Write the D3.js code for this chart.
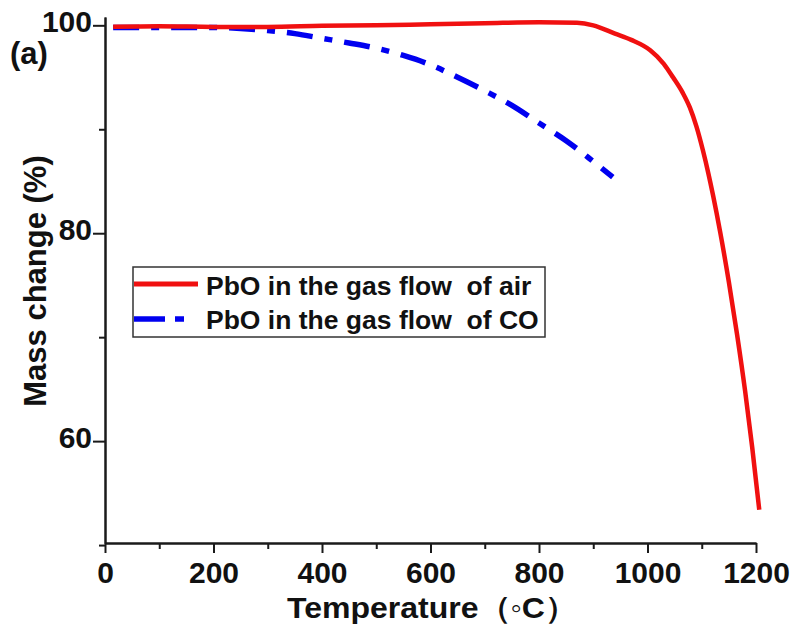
<!DOCTYPE html>
<html>
<head>
<meta charset="utf-8">
<script src="https://cdn.jsdelivr.net/npm/d3@7/dist/d3.min.js"></script>
<style>
  body { margin: 0; background: #fff; }
  svg { font-family: "Liberation Sans", Arial, sans-serif; font-weight: bold; }
  .axis path, .axis line { stroke: #1a1a1a; stroke-width: 2px; }
  .axis text { fill: #111; font-size: 30px; font-family: "Liberation Sans", Arial, sans-serif; font-weight: bold; }
</style>
</head>
<body>
<svg id="chart" width="797" height="626"></svg>
<script>
// red curve: PbO in air
const airTemp = [15, 100, 200, 300, 400, 500, 600, 700, 800, 870, 900, 940, 970, 1005, 1030, 1047, 1065, 1078, 1090, 1102, 1112, 1121, 1134, 1150, 1165, 1180, 1193, 1206];
const airMass = [99.85, 99.9, 99.85, 99.85, 99.95, 100.0, 100.1, 100.2, 100.3, 100.25, 100.0, 99.2, 98.6, 97.6, 96.3, 95.0, 93.5, 92.1, 90.3, 88.0, 85.8, 83.6, 80.1, 75.3, 70.3, 64.8, 59.4, 53.4];

// blue curve: PbO in CO
const coTemp = [15, 100, 200, 250, 300, 350, 400, 450, 500, 550, 600, 650, 700, 750, 800, 850, 900, 936];
const coMass = [99.8, 99.8, 99.8, 99.7, 99.5, 99.2, 98.75, 98.3, 97.8, 97.1, 96.2, 95.0, 93.7, 92.3, 90.6, 88.9, 86.9, 85.4];

const xMajor = [0, 200, 400, 600, 800, 1000, 1200];
const xMinor = [100, 300, 500, 700, 900, 1100];
const yMajor = [60, 80, 100];
const yMinor = [50, 70, 90];

const svg = d3.select("#chart");

let x = d3.scaleLinear().domain([0, 1200]).range([105, 756]);
let y = d3.scaleLinear().domain([50.2, 100.8]).range([543, 17]);

// axes
svg.append("g")
  .attr("class", "axis")
  .attr("transform", "translate(0,543)")
  .call(d3.axisBottom(x).tickValues(xMinor).tickSize(6).tickSizeOuter(0).tickFormat(""));

svg.append("g")
  .attr("class", "axis")
  .attr("transform", "translate(0,543)")
  .call(d3.axisBottom(x).tickValues(xMajor).tickSize(10).tickSizeOuter(0).tickPadding(9).tickFormat(d3.format("d")))
  .selectAll("text").attr("dy", "0.71em");

svg.append("g")
  .attr("class", "axis")
  .attr("transform", "translate(105,0)")
  .call(d3.axisLeft(y).tickValues(yMinor).tickSize(6).tickSizeOuter(0).tickFormat(""));

svg.append("g")
  .attr("class", "axis")
  .attr("transform", "translate(105,0)")
  .call(d3.axisLeft(y).tickValues(yMajor).tickSize(12).tickSizeOuter(0).tickPadding(1))
  .selectAll("text").attr("dy", "0.2em");

// curves
const line = d3.line()
  .x(d => x(d[0]))
  .y(d => y(d[1]))
  .curve(d3.curveMonotoneX);

svg.append("path")
  .datum(coTemp.map((t, i) => [t, coMass[i]]))
  .attr("d", line)
  .attr("fill", "none")
  .attr("stroke", "#0000f0")
  .attr("stroke-width", 5.5)
  .attr("stroke-dasharray", "26,12,8,12");

svg.append("path")
  .datum(airTemp.map((t, i) => [t, airMass[i]]))
  .attr("d", line)
  .attr("fill", "none")
  .attr("stroke", "#f01010")
  .attr("stroke-width", 4.5);

// legend
const leg = svg.append("g");
leg.append("rect")
  .attr("x", 133).attr("y", 267)
  .attr("width", 412).attr("height", 70)
  .attr("fill", "#fff")
  .attr("stroke", "#333")
  .attr("stroke-width", 1.5);

leg.append("line")
  .attr("x1", 134).attr("x2", 198).attr("y1", 284).attr("y2", 284)
  .attr("stroke", "#f01010").attr("stroke-width", 5);

leg.append("line")
  .attr("x1", 134).attr("x2", 184).attr("y1", 319).attr("y2", 319)
  .attr("stroke", "#0000f0").attr("stroke-width", 5.5)
  .attr("stroke-dasharray", "31,10,9,10");

leg.append("text")
  .attr("x", 206).attr("y", 295)
  .style("font-size", "26.5px").style("white-space", "pre")
  .attr("fill", "#111")
  .text("PbO in the gas flow  of air");

leg.append("text")
  .attr("x", 206).attr("y", 329)
  .style("font-size", "26.5px").style("white-space", "pre")
  .attr("fill", "#111")
  .text("PbO in the gas flow  of CO");

// titles
svg.append("text")
  .attr("x", 432).attr("y", 618)
  .attr("text-anchor", "middle")
  .attr("fill", "#111")
  .attr("textLength", 290)
  .attr("lengthAdjust", "spacingAndGlyphs")
  .style("font-size", "30px")
  .text("Temperature（◦C）");

svg.append("text")
  .attr("transform", "rotate(-90)")
  .attr("x", -281).attr("y", 46)
  .attr("text-anchor", "middle")
  .attr("fill", "#111")
  .style("font-size", "31px")
  .text("Mass change (%)");

svg.append("text")
  .attr("x", 10).attr("y", 64)
  .attr("fill", "#111")
  .style("font-size", "31px")
  .text("(a)");
</script>
</body>
</html>
